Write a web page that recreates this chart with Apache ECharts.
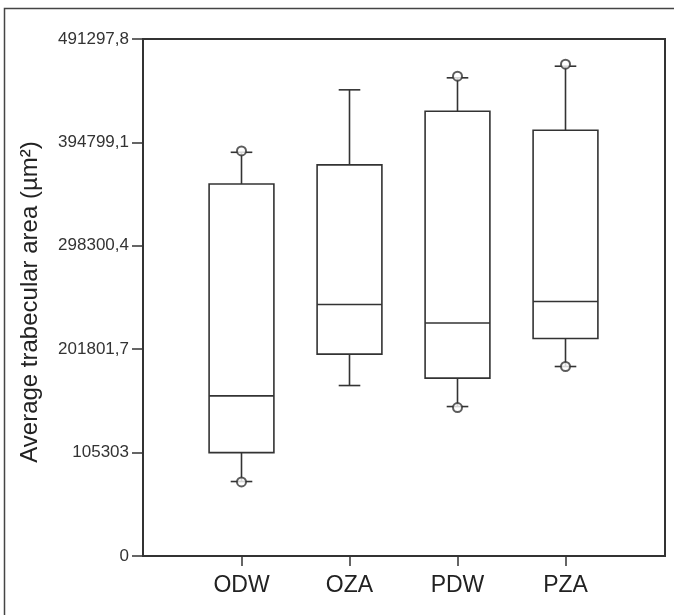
<!doctype html>
<html>
    <head>
        <meta charset="utf-8">
        <style>
            html, body { margin: 0; padding: 0; background: #fff; }
            #main { width: 674px; height: 615px; }
        </style>
    </head>
    <body>
        <div id="main"></div>
        <script src="https://cdn.jsdelivr.net/npm/echarts@6/dist/echarts.min.js"></script>
        <script>
            var chart = echarts.init(document.getElementById('main'));

            // groups and box statistics
            var categories = ['ODW', 'OZA', 'PDW', 'PZA'];
            var whiskerLow = [78305, 167894, 148276, 185644];
            var q1 = [105303, 197228, 174807, 211802];
            var median = [158272, 243565, 226188, 246367];
            var q3 = [356042, 373792, 423865, 406115];
            var whiskerHigh = [385563, 443857, 455067, 465904];
            // circles drawn at some whisker ends: [group index, value]
            var outliers = [[0, 386873], [0, 77931], [2, 456562], [2, 147342], [3, 467773], [3, 185644]];

            // y axis as printed on the figure (bottom tick reads 0)
            var yTickLabels = ['0', '105303', '201801,7', '298300,4', '394799,1', '491297,8'];
            var yMin = 8804.3;
            var yMax = 491297.8;
            var yStep = 96498.7;

            var font = 'Liberation Sans, Arial, sans-serif';
            var ink = '#333';

            var boxData = categories.map(function (c, i) {
                return [i, whiskerLow[i], q1[i], median[i], q3[i], whiskerHigh[i]];
            });

            function renderBox(params, api) {
                var x = api.value(0);
                var lo = api.coord([x, api.value(1)]);
                var b1 = api.coord([x, api.value(2)]);
                var md = api.coord([x, api.value(3)]);
                var b3 = api.coord([x, api.value(4)]);
                var hi = api.coord([x, api.value(5)]);
                var band = api.size([1, 0])[0];
                var bw = band * 0.6;
                var cw = band * 0.2;
                var cx = lo[0];
                var st = { stroke: ink, lineWidth: 1.6, fill: null };
                function line(x1, y1, x2, y2) {
                    return { type: 'line', shape: { x1: x1, y1: y1, x2: x2, y2: y2 }, style: st };
                }
                return {
                    type: 'group',
                    children: [
                        line(cx, hi[1], cx, b3[1]),
                        line(cx, b1[1], cx, lo[1]),
                        line(cx - cw / 2, hi[1], cx + cw / 2, hi[1]),
                        line(cx - cw / 2, lo[1], cx + cw / 2, lo[1]),
                        {
                            type: 'rect',
                            shape: { x: cx - bw / 2, y: b3[1], width: bw, height: b1[1] - b3[1] },
                            style: { stroke: ink, lineWidth: 1.6, fill: '#fff' }
                        },
                        line(cx - bw / 2, md[1], cx + bw / 2, md[1])
                    ]
                };
            }

            chart.setOption({
                animation: false,
                backgroundColor: '#fff',
                graphic: [{
                    type: 'polyline',
                    shape: { points: [[4.5, 615], [4.5, 8.5], [674, 8.5]] },
                    style: { stroke: '#444', lineWidth: 1.5, fill: null }
                }],
                grid: [
                    // frame with the value axis
                    { left: 143, top: 39, right: 9, bottom: 59, show: true, borderColor: ink, borderWidth: 2, backgroundColor: 'transparent' },
                    // boxes
                    { left: 187.5, top: 39, right: 54.5, bottom: 59 }
                ],
                xAxis: [
                    { gridIndex: 0, type: 'value', min: 0, max: 1, show: false },
                    {
                        gridIndex: 1,
                        type: 'category',
                        data: categories,
                        boundaryGap: true,
                        axisLine: { show: false },
                        axisTick: { show: true, alignWithLabel: true, length: 10, lineStyle: { color: ink, width: 1.5 } },
                        axisLabel: { fontSize: 23, margin: 18, color: '#222', fontFamily: font },
                        splitLine: { show: false }
                    }
                ],
                yAxis: [
                    {
                        gridIndex: 0,
                        type: 'value',
                        min: yMin,
                        max: yMax,
                        interval: yStep,
                        name: 'Average trabecular area (µm²)',
                        nameLocation: 'middle',
                        nameGap: 101,
                        nameTextStyle: { fontSize: 24, color: '#222', fontFamily: font, padding: [0, 9, 0, 0] },
                        axisLine: { show: true, lineStyle: { color: ink, width: 2 } },
                        axisTick: { show: true, length: 11, lineStyle: { color: ink, width: 1.5 } },
                        axisLabel: {
                            fontSize: 17,
                            margin: 14,
                            color: '#333',
                            fontFamily: font,
                            formatter: function (v, i) { return yTickLabels[i]; }
                        },
                        splitLine: { show: false }
                    },
                    { gridIndex: 1, type: 'value', min: yMin, max: yMax, interval: yStep, show: false, splitLine: { show: false } }
                ],
                series: [
                    {
                        type: 'custom',
                        xAxisIndex: 1,
                        yAxisIndex: 1,
                        renderItem: renderBox,
                        encode: { x: 0, y: [1, 2, 3, 4, 5] },
                        data: boxData,
                        z: 2
                    },
                    {
                        type: 'scatter',
                        xAxisIndex: 1,
                        yAxisIndex: 1,
                        symbol: 'emptyCircle',
                        symbolSize: 9,
                        itemStyle: { color: ink, borderColor: ink, borderWidth: 1.5 },
                        data: outliers,
                        z: 3
                    }
                ]
            });

            window.addEventListener('resize', function () {
                chart.resize();
            });
        </script>
    </body>
</html>
